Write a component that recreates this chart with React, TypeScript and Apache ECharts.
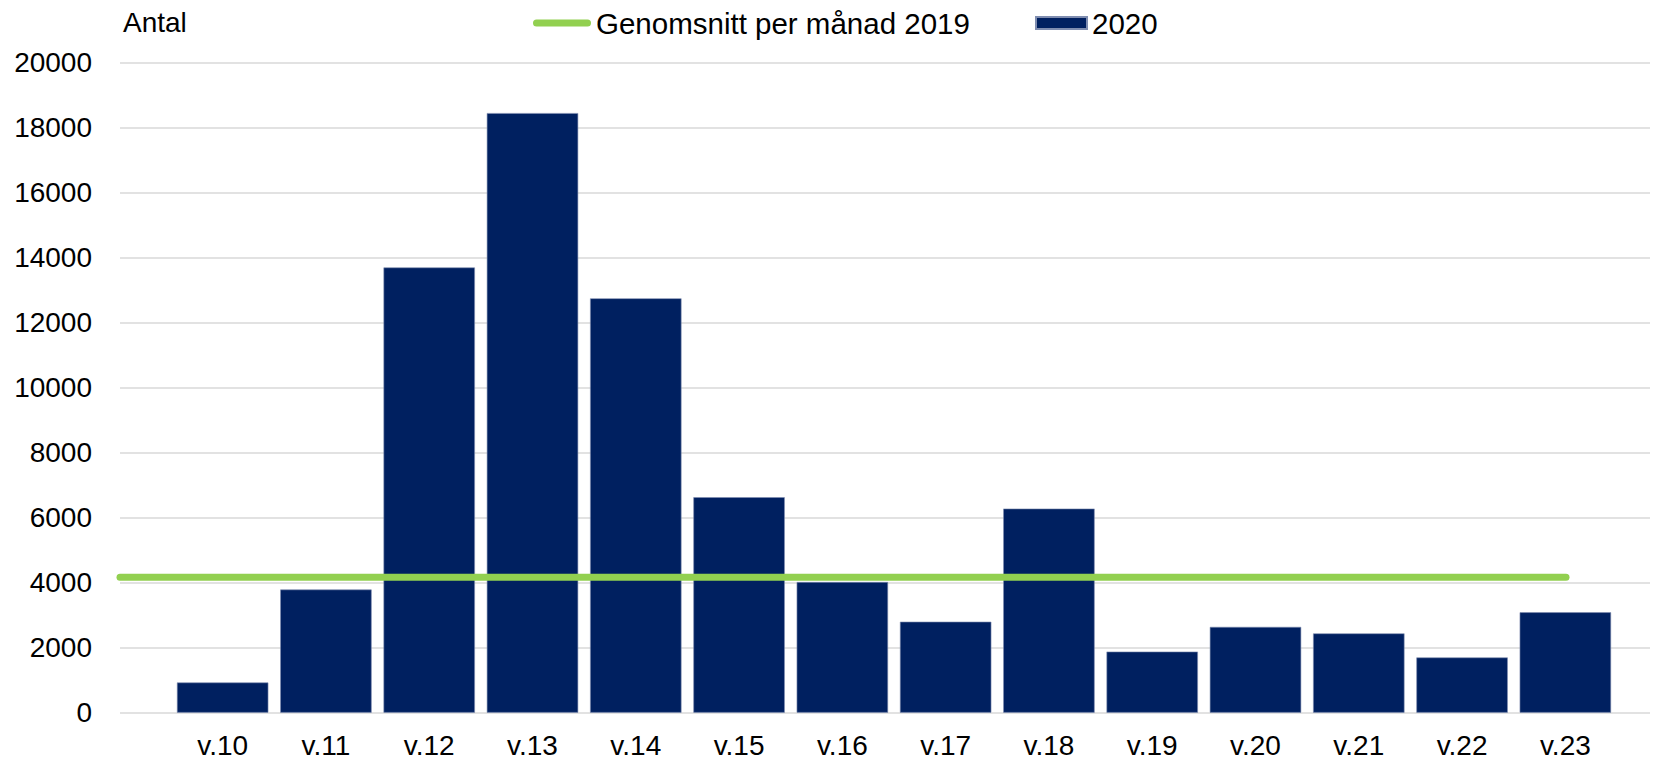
import React, { useEffect, useRef } from "react";
import * as echarts from "echarts";

const categories = ["v.10", "v.11", "v.12", "v.13", "v.14", "v.15", "v.16", "v.17", "v.18", "v.19", "v.20", "v.21", "v.22", "v.23"];
const values2020 = [930, 3790, 13700, 18450, 12750, 6630, 4020, 2800, 6280, 1880, 2640, 2440, 1700, 3090];
const avg2019 = 4170;
// the average line runs from one category before v.10 to the centre of v.23 (category index units)
const avgSpanIndex = [-1, 13];
const yTicks = { min: 0, max: 20000, interval: 2000 };

const FONT = "'Liberation Sans', Arial, sans-serif";
const W = 1653;
const H = 760;
const GRID_TOP = 62.7;
const GRID_BOTTOM = 47.3;
const WIDE_LEFT = 120;
const WIDE_RIGHT = 3;
const BAR_LEFT = 171;
const BAR_RIGHT = 36;

export default function App() {
  const ref = useRef<HTMLDivElement>(null);
  useEffect(() => {
    if (!ref.current) return;
    const chart = echarts.init(ref.current, null, { renderer: "svg" });
    const catW = (W - BAR_LEFT - BAR_RIGHT) / categories.length;
    // value-axis range on the wide grid so that one unit equals one category step
    const wideMin = -1;
    const wideMax = wideMin + (W - WIDE_LEFT - WIDE_RIGHT) / catW;
    chart.setOption({
      animation: false,
      backgroundColor: "#ffffff",
      textStyle: { fontFamily: FONT },
      legend: [
        {
          left: 533,
          top: 8,
          padding: 0,
          itemWidth: 58,
          itemHeight: 7,
          icon: "path://M3.5,0H54.5A3.5,3.5,0,0,1,54.5,7H3.5A3.5,3.5,0,0,1,3.5,0Z",
          textStyle: { fontSize: 29.5, color: "#000", fontFamily: FONT },
          data: ["Genomsnitt per månad 2019"],
        },
        {
          left: 1035,
          top: 8,
          padding: 0,
          itemWidth: 51,
          itemHeight: 12,
          icon: "rect",
          textStyle: { fontSize: 29.5, color: "#000", fontFamily: FONT },
          data: ["2020"],
        },
      ],
      graphic: [
        {
          type: "text",
          left: 123,
          top: 8,
          style: { text: "Antal", fontSize: 28, fill: "#000", fontFamily: FONT },
        },
      ],
      grid: [
        { left: WIDE_LEFT, right: WIDE_RIGHT, top: GRID_TOP, bottom: GRID_BOTTOM },
        { left: BAR_LEFT, right: BAR_RIGHT, top: GRID_TOP, bottom: GRID_BOTTOM },
      ],
      xAxis: [
        { type: "value", gridIndex: 0, show: false, min: wideMin, max: wideMax },
        {
          type: "category",
          gridIndex: 1,
          data: categories,
          axisLine: { show: false },
          axisTick: { show: false },
          axisLabel: { fontSize: 28, color: "#000", margin: 19, fontFamily: FONT },
        },
      ],
      yAxis: [
        {
          type: "value",
          gridIndex: 0,
          min: yTicks.min,
          max: yTicks.max,
          interval: yTicks.interval,
          axisLine: { show: false },
          axisTick: { show: false },
          axisLabel: {
            fontSize: 28,
            color: "#000",
            margin: 28,
            fontFamily: FONT,
            formatter: (v: number) => String(v),
          },
          splitLine: { lineStyle: { color: "#d9d9d9", width: 1.5 } },
        },
        {
          type: "value",
          gridIndex: 1,
          min: yTicks.min,
          max: yTicks.max,
          interval: yTicks.interval,
          show: false,
          splitLine: { show: false },
        },
      ],
      series: [
        {
          name: "2020",
          type: "bar",
          xAxisIndex: 1,
          yAxisIndex: 1,
          data: values2020,
          barCategoryGap: "11.5%",
          itemStyle: { color: "#002060", borderColor: "#7f8db0", borderWidth: 0.6 },
          z: 2,
        },
        {
          name: "Genomsnitt per månad 2019",
          type: "line",
          xAxisIndex: 0,
          yAxisIndex: 0,
          data: avgSpanIndex.map((i) => [i, avg2019]),
          symbol: "none",
          lineStyle: { color: "#92d050", width: 7, cap: "round" },
          itemStyle: { color: "#92d050" },
          z: 3,
        },
      ],
    });
    return () => chart.dispose();
  }, []);
  return (
    <div
      ref={ref}
      style={{ position: "absolute", left: 0, top: 0, width: W, height: H }}
    />
  );
}
